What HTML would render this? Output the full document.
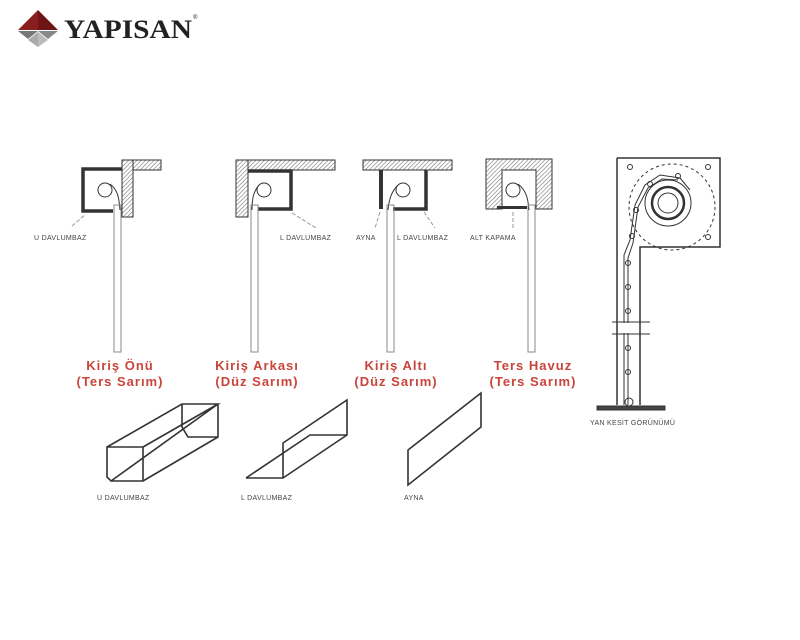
<!DOCTYPE html>
<html><head><meta charset="utf-8"><style>
body{margin:0;background:#fff;}
svg{display:block}
.l{font-family:"Liberation Sans",sans-serif;font-size:7px;fill:#444;letter-spacing:0.3px}
.r{font-family:"Liberation Sans",sans-serif;font-size:13px;font-weight:bold;fill:#c9443b;letter-spacing:1px}
</style></head><body>
<svg width="800" height="640" viewBox="0 0 800 640" xmlns="http://www.w3.org/2000/svg">
<defs>
<pattern id="h" width="3" height="3" patternUnits="userSpaceOnUse" patternTransform="rotate(45)">
<rect width="3" height="3" fill="#fff"/><line x1="0" y1="0" x2="0" y2="3" stroke="#777" stroke-width="1.2"/>
</pattern>
</defs>
<!-- logo -->
<polygon points="38,10 18,30 38,30" fill="#8a1e1e"/>
<polygon points="38,10 58,30 38,30" fill="#6e1414"/>
<polygon points="18,31 38,31 28,39" fill="#777"/>
<polygon points="58,31 38,31 48,39" fill="#888"/>
<polygon points="28,40 38,32 38,47" fill="#aaa"/>
<polygon points="48,40 38,32 38,47" fill="#bbb"/>
<text x="64" y="38" font-family="Liberation Serif,serif" font-weight="bold" font-size="26" fill="#222" textLength="128" lengthAdjust="spacingAndGlyphs">YAPISAN</text>
<text x="193" y="19" font-family="Liberation Sans,sans-serif" font-size="6" fill="#222">®</text>

<g stroke="#333" fill="none" stroke-width="1">
<!-- D1 -->
<rect x="122" y="160" width="39" height="10" fill="url(#h)"/>
<rect x="122" y="160" width="11" height="57" fill="url(#h)"/>
<path d="M122,169 H83 V211 H113" stroke="#333" stroke-width="3.5"/>
<circle cx="105" cy="190" r="7"/>
<path d="M110,184 C118,190 119,198 120,210" />
<rect x="114" y="205" width="7" height="147" stroke="#888"/>
<line x1="72" y1="226" x2="86" y2="214" stroke="#999" stroke-dasharray="4,2"/>
<!-- D2 -->
<rect x="236" y="160" width="99" height="10" fill="url(#h)"/>
<rect x="236" y="160" width="12" height="57" fill="url(#h)"/>
<path d="M248,171 H291 V209 H258" stroke="#333" stroke-width="3.5"/>
<circle cx="264" cy="190" r="7"/>
<path d="M259,185 C253,192 252,200 252,210"/>
<rect x="251" y="205" width="7" height="147" stroke="#888"/>
<line x1="292" y1="213" x2="316" y2="228" stroke="#999" stroke-dasharray="4,2"/>
<!-- D3 -->
<rect x="363" y="160" width="89" height="10" fill="url(#h)"/>
<line x1="381" y1="170" x2="381" y2="209" stroke-width="4"/>
<path d="M426,170 V209 H393" stroke-width="3.5"/>
<circle cx="403" cy="190" r="7"/>
<path d="M398,185 C391,192 389,200 388,210"/>
<rect x="387" y="205" width="7" height="147" stroke="#888"/>
<line x1="380" y1="212" x2="375" y2="228" stroke="#999" stroke-dasharray="4,2"/>
<line x1="424" y1="212" x2="435" y2="228" stroke="#999" stroke-dasharray="4,2"/>
<!-- D4 -->
<path d="M486,159 H552 V209 H536 V170 H502 V209 H486 Z" fill="url(#h)"/>
<line x1="497" y1="207.5" x2="527" y2="207.5" stroke-width="3"/>
<circle cx="513" cy="190" r="7"/>
<path d="M518,184 C526,190 528,198 529,210"/>
<rect x="528" y="205" width="7" height="147" stroke="#888"/>
<line x1="513" y1="212" x2="513" y2="228" stroke="#999" stroke-dasharray="4,2"/>
<!-- side view -->
<path d="M617,158 H720 V247 H640 V405 M617,158 V405" stroke-width="1.5"/>
<circle cx="672" cy="207" r="43" stroke-dasharray="3,3"/>
<circle cx="668" cy="203" r="23" stroke-width="1"/>
<circle cx="668" cy="203" r="16" stroke-width="2.5"/>
<circle cx="668" cy="203" r="10" stroke-width="1"/>
<circle cx="630" cy="167" r="2.5"/><circle cx="708" cy="167" r="2.5"/>
<circle cx="708" cy="237" r="2.5"/>
<path d="M624,405 V255 L630,240 L635,205 L645,185 L660,175 L680,178 L690,190" />
<path d="M628,405 V258 L633,243 L638,207 L648,188 L662,179 L678,180"/>
<circle cx="650" cy="184" r="2.5"/><circle cx="678" cy="176" r="2.5"/>
<circle cx="636" cy="210" r="2.5"/><circle cx="632" cy="236" r="2.5"/>
<circle cx="628" cy="263" r="2.5"/><circle cx="628" cy="287" r="2.5"/>
<circle cx="628" cy="311" r="2.5"/><circle cx="628" cy="348" r="2.5"/>
<circle cx="628" cy="372" r="2.5"/>
<circle cx="629" cy="402" r="4"/>
<line x1="612" y1="322" x2="650" y2="322"/>
<line x1="612" y1="334" x2="650" y2="334"/>
<rect x="618" y="323" width="21" height="10" fill="#fff" stroke="none"/>
<rect x="597" y="406" width="68" height="4" fill="#444"/>
<!-- bottom shapes -->
<path d="M107,447 H143 V481 H111 L107,477 Z M107,447 L182,404 H218 L143,447 M218,404 V437 L143,481 M182,404 V427 L188,437 H218 M111,481 L218,404" stroke-width="1.6"/>
<path d="M246,478 H283 L347,435 V400 L283,443 V478 M246,478 L310,435 H347 M283,443 L283,478" stroke-width="1.6"/>
<path d="M408,450 L481,393 V427 L408,485 Z" stroke-width="1.6"/>
</g>
<text class="l" x="34" y="240">U DAVLUMBAZ</text>
<text class="l" x="280" y="240">L DAVLUMBAZ</text>
<text class="l" x="356" y="240">AYNA</text>
<text class="l" x="397" y="240">L DAVLUMBAZ</text>
<text class="l" x="470" y="240">ALT KAPAMA</text>
<text class="l" x="590" y="425">YAN KESİT GÖRÜNÜMÜ</text>
<text class="l" x="97" y="500">U DAVLUMBAZ</text>
<text class="l" x="241" y="500">L DAVLUMBAZ</text>
<text class="l" x="404" y="500">AYNA</text>
<g class="r" text-anchor="middle">
<text x="120" y="370">Kiriş Önü</text><text x="120" y="386">(Ters Sarım)</text>
<text x="257" y="370">Kiriş Arkası</text><text x="257" y="386">(Düz Sarım)</text>
<text x="396" y="370">Kiriş Altı</text><text x="396" y="386">(Düz Sarım)</text>
<text x="533" y="370">Ters Havuz</text><text x="533" y="386">(Ters Sarım)</text>
</g>
</svg>
</body></html>
